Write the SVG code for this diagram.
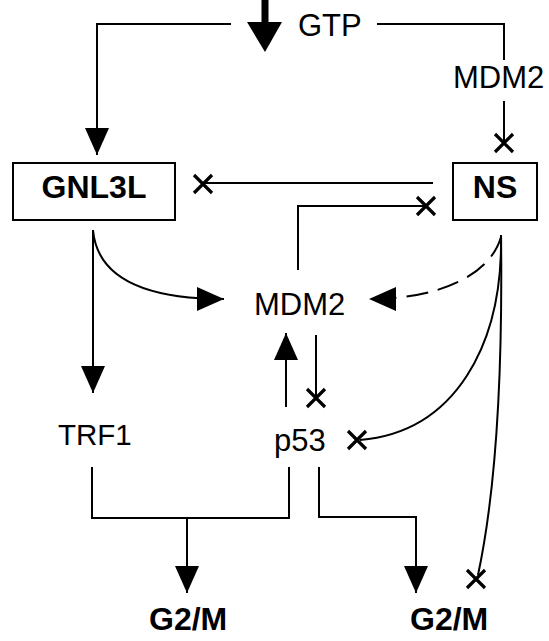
<svg xmlns="http://www.w3.org/2000/svg" xmlns:xlink="http://www.w3.org/1999/xlink" width="549" height="641" viewBox="0 0 549 641">
<style>
.ln{fill:none;stroke:#000;stroke-width:2}
.dash{stroke-dasharray:22 10}
.box{fill:#fff;stroke:#000;stroke-width:2}
.t{font-family:"Liberation Sans",Arial,sans-serif;font-size:31px;fill:#000}
.b{font-family:"Liberation Sans",Arial,sans-serif;font-size:32px;font-weight:bold;fill:#000}
.xm{fill:none;stroke:#000;stroke-width:3.2}
</style>
<defs>
<marker id="ah" viewBox="0 0 27 24" refX="27" refY="12" markerWidth="27" markerHeight="24" markerUnits="userSpaceOnUse" orient="auto">
<path d="M0,0 L27,12 L0,24 z" fill="#000"/>
</marker>
<path id="x" class="xm" d="M-9,-9 L9,9 M-9,9 L9,-9"/>
</defs>
<rect width="549" height="641" fill="#fff"/>
<g id="connectors">
<path class="ln" d="M231 24 H97 V155" marker-end="url(#ah)"/>
<g id="gtp-arrow"><rect x="261.5" y="0" width="7" height="24" fill="#000"/><polygon points="247,22 282,22 265,52" fill="#000"/></g>
<path class="ln" d="M377 24 H504 V60"/>
<path class="ln" d="M504 101 V143"/><use xlink:href="#x" x="504" y="143"/>
<path class="ln" d="M433 183 H203"/><use xlink:href="#x" x="203" y="184"/>
<path class="ln" d="M298 270 V206 H426"/><use xlink:href="#x" x="426" y="206"/>
<path class="ln" d="M93 230 V393" marker-end="url(#ah)"/>
<path class="ln" d="M93 230 C97 275 140 299 224 299" marker-end="url(#ah)"/>
<path class="ln dash" d="M501 237 C490 275 440 299 369 299" marker-end="url(#ah)"/>
<path class="ln" d="M286 407 V333" marker-end="url(#ah)"/>
<path class="ln" d="M316 335 V398"/><use xlink:href="#x" x="316" y="398"/>
<path class="ln" d="M501 235 C503 345 455 432 360 440"/><use xlink:href="#x" x="357" y="440"/>
<path class="ln" d="M501 235 C503 390 494 500 478 575"/><use xlink:href="#x" x="476" y="579"/>
<path class="ln" d="M92 467 V518 H289 V467"/>
<path class="ln" d="M187 518 V593" marker-end="url(#ah)"/>
<path class="ln" d="M319 467 V517 H416 V593" marker-end="url(#ah)"/>
</g>
<g id="GTP"><text class="t" x="298" y="36">GTP</text></g>
<g id="MDM2-top"><text class="t" x="453" y="88">MDM2</text></g>
<g id="GNL3L"><rect class="box" x="13" y="163" width="162" height="57"/><text class="b" x="94" y="198" text-anchor="middle">GNL3L</text></g>
<g id="NS"><rect class="box" x="453" y="163" width="84" height="57"/><text class="b" x="495" y="198" text-anchor="middle">NS</text></g>
<g id="MDM2"><text class="t" x="254" y="315">MDM2</text></g>
<g id="TRF1"><text class="t" x="58" y="445" style="font-size:29.5px">TRF1</text></g>
<g id="p53"><text class="t" x="274" y="451">p53</text></g>
<g id="G2M-left"><text class="b" x="149" y="630">G2/M</text></g>
<g id="G2M-right"><text class="b" x="410" y="630">G2/M</text></g>
</svg>
